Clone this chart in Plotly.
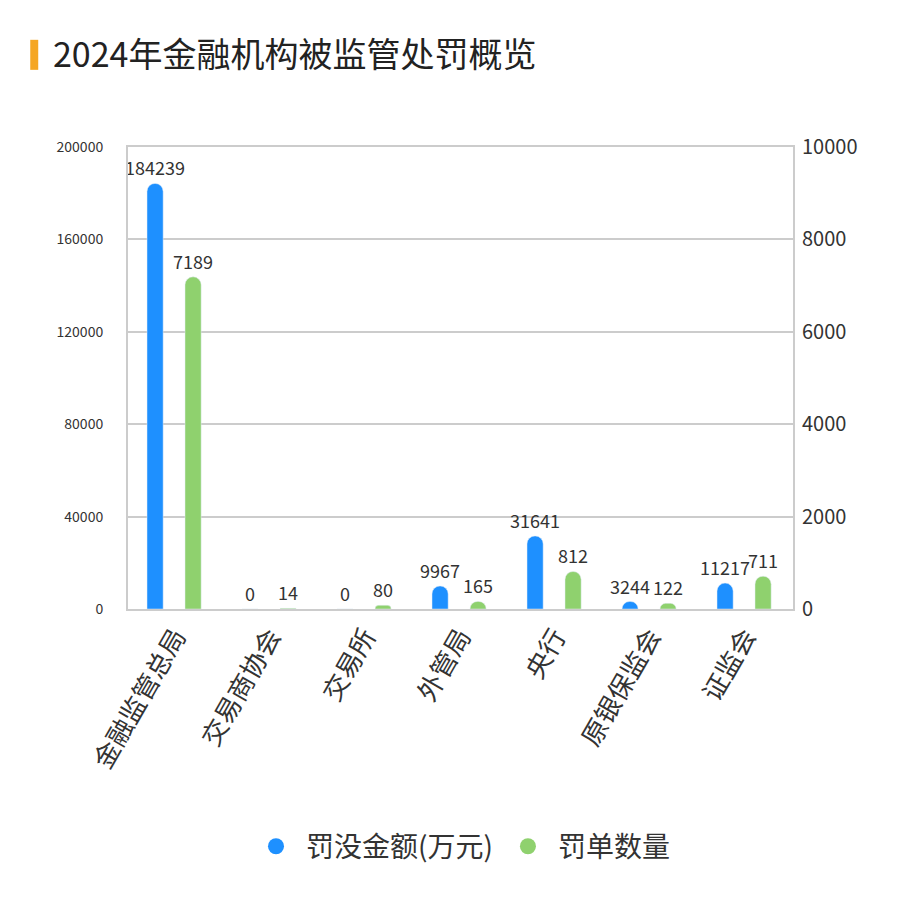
import plotly.graph_objects as go

categories = ["金融监管总局", "交易商协会", "交易所", "外管局", "央行", "原银保监会", "证监会"]
fine_amount = [184239, 0, 0, 9967, 31641, 3244, 11217]
penalty_count = [7189, 14, 80, 165, 812, 122, 711]

BLUE = "#1e90ff"
GREEN = "#8fd16e"
FONT = "Noto Sans CJK SC"

fig = go.Figure()
fig.add_trace(go.Bar(
    x=categories, y=fine_amount, name="罚没金额(万元)",
    marker_color=BLUE, yaxis="y", width=0.17, offset=-0.30,
    text=fine_amount, textposition="outside", cliponaxis=False, constraintext="none",
    textfont=dict(size=18, color="#333"), showlegend=False,
))
fig.add_trace(go.Bar(
    x=categories, y=penalty_count, name="罚单数量",
    marker_color=GREEN, yaxis="y2", width=0.17, offset=0.10,
    text=penalty_count, textposition="outside", cliponaxis=False, constraintext="none",
    textfont=dict(size=18, color="#333"), showlegend=False,
))
# circle markers for the legend
for name, col in [("罚没金额(万元)", BLUE), ("罚单数量", GREEN)]:
    fig.add_trace(go.Scatter(x=[None], y=[None], mode="markers", name=name,
                             marker=dict(color=col, size=30, symbol="circle")))

fig.update_layout(
    width=900, height=912,
    font=dict(family=FONT, color="#333"),
    paper_bgcolor="white", plot_bgcolor="white",
    margin=dict(l=120, r=115, t=139, b=311),
    barmode="overlay", barcornerradius=8,
    xaxis=dict(tickangle=-60, tickfont=dict(size=26, color="#333"),
               showline=True, linecolor="#ccc", mirror=True, linewidth=2),
    yaxis=dict(range=[0, 200000], dtick=40000, tickformat="d",
               tickfont=dict(size=14, color="#333"),
               gridcolor="#ccc", gridwidth=2, showline=True, linecolor="#ccc",
               mirror=True, linewidth=2, zeroline=False, ticklabelstandoff=20),
    yaxis2=dict(range=[0, 10000], dtick=2000, tickformat="d", overlaying="y", side="right",
                tickfont=dict(size=20, color="#333"), showgrid=False, zeroline=False,
                ticklabelstandoff=8),
    legend=dict(orientation="h", x=0.5, xanchor="center", y=-0.46, yanchor="top",
                font=dict(size=28, color="#333"), itemsizing="trace", itemwidth=50,
                tracegroupgap=60),
    title=dict(text="2024年金融机构被监管处罚概览", x=0.05, xanchor="left",
               y=0.948, yanchor="middle", font=dict(size=34, color="#222")),
    shapes=[dict(type="rect", xref="paper", yref="paper", x0=-0.147, x1=-0.135,
                 y0=1.167, y1=1.232, fillcolor="#f5a623", line_width=0)],
)

fig.write_html("out.html")
